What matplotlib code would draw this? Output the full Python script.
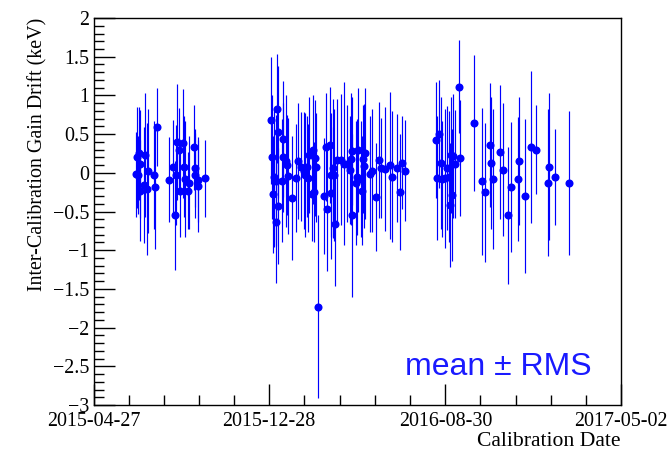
import numpy as np
import matplotlib
matplotlib.use("Agg")
import matplotlib.pyplot as plt
import matplotlib.dates as mdates
from matplotlib.ticker import MultipleLocator, FixedLocator

# ---------------- data ----------------
base_date = "2015-04-27"
# days after base_date, drift (keV), RMS (keV)
days = [59, 61, 62, 63, 64, 65, 70, 72, 75, 76, 84, 85, 89,
        105, 111, 114, 115, 117, 119, 120, 125, 126, 127, 132, 133, 140, 141, 142, 145, 146, 155,
        248, 249, 251, 252, 254, 255, 256, 257, 258, 263, 264, 265, 268, 270, 271, 277, 282, 285,
        290, 294, 295, 298, 299, 300, 305, 306, 307, 309, 310, 313, 321, 325, 326, 330, 331, 332,
        334, 335, 337, 340, 346, 349, 353, 358, 359, 360, 361, 366, 368, 369, 373, 375, 376, 378,
        379, 386, 388, 394, 399, 401, 407, 414, 417, 424, 427, 430, 434,
        478, 480, 482, 485, 487, 491, 494, 496, 497, 499, 500, 502, 504, 510, 511,
        531, 542, 546, 554, 555, 558, 567, 571, 579, 582, 593, 594, 602, 611, 617, 635, 636, 644, 664]
drift = [-0.02, 0.20, -0.03, 0.25, -0.23, 0.11, -0.16, 0.23, -0.21, 0.02, -0.03, -0.18, 0.59,
         -0.09, 0.08, -0.55, -0.03, 0.40, 0.29, -0.23, 0.38, 0.08, -0.08, -0.23, -0.13, 0.33, 0.06, -0.03, -0.17, -0.09, -0.07,
         0.68, 0.20, -0.28, -0.06, -0.10, -0.63, 0.83, 0.53, -0.43, -0.10, 0.44, 0.20, 0.15, 0.10, -0.04, -0.32, -0.07, 0.15,
         0.08, 0.03, -0.03, 0.08, -0.07, 0.23, -0.28, 0.30, -0.25, 0.19, 0.07, -1.73, -0.30, 0.33, -0.47, 0.36, -0.26, -0.03,
         0.06, -0.03, -0.66, 0.16, 0.17, 0.12, 0.12, 0.04, 0.18, -0.55, 0.28, -0.13, -0.05, 0.29, -0.08, -0.23, 0.18, 0.09,
         0.25, -0.01, 0.03, -0.31, 0.17, 0.06, 0.05, 0.10, -0.05, 0.06, -0.25, 0.13, 0.03,
         0.42, -0.07, 0.50, 0.13, -0.08, -0.07, 0.06, -0.05, -0.42, 0.23, -0.29, 0.22, 0.11, 1.11, 0.19,
         0.64, -0.11, -0.25, 0.36, 0.13, -0.08, 0.27, 0.04, -0.55, -0.18, -0.08, 0.15, -0.30, 0.33, 0.30, -0.13, 0.08, -0.06, -0.13]
rms = [0.55, 0.65, 0.50, 0.60, 0.65, 0.70, 0.75, 0.80, 0.85, 0.80, 0.70, 0.80, 0.50,
       0.55, 0.60, 0.70, 0.65, 0.75, 0.55, 0.60, 0.70, 0.65, 0.75, 0.50, 0.60, 0.55, 0.50, 0.55, 0.60, 0.55, 0.50,
       0.82, 0.80, 0.75, 0.90, 0.85, 0.80, 0.70, 0.85, 0.75, 0.80, 0.75, 0.70, 0.85, 0.65, 0.75, 0.80, 0.70, 0.75,
       0.70, 0.75, 0.80, 0.65, 0.70, 0.75, 0.60, 0.70, 0.65, 0.75, 0.70, 1.18, 0.75, 0.70, 0.80, 0.75, 0.85, 0.80,
       0.90, 0.85, 0.80, 0.80, 0.85, 1.05, 0.75, 0.70, 0.85, 1.05, 0.70, 0.80, 0.75, 0.80, 0.75, 0.70, 0.70, 0.80,
       0.85, 0.75, 0.80, 0.70, 0.75, 0.65, 0.80, 0.95, 0.85, 0.70, 0.75, 0.60, 0.65,
       0.75, 0.80, 0.70, 0.85, 0.75, 0.90, 0.80, 0.85, 0.80, 0.75, 0.85, 0.80, 0.70, 0.60, 0.75,
       0.88, 0.95, 0.90, 0.80, 0.85, 0.90, 0.87, 0.86, 0.89, 0.84, 0.80, 0.83, 1.00, 0.98, 0.57, 0.95, 0.95, 0.62, 0.93]

xtick_labels = ["2015-04-27", "2015-12-28", "2016-08-30", "2017-05-02"]
x_title = "Calibration Date"
y_title = "Inter-Calibration Gain Drift (keV)"
annotation = "mean ± RMS"

# ---------------- plot ----------------
plt.rcParams['font.family'] = ['Liberation Serif', 'DejaVu Serif']
plt.rcParams['axes.unicode_minus'] = True

fig = plt.figure(figsize=(6.69, 4.51), dpi=100)
ax = fig.add_axes([0.140, 0.102, 0.788, 0.858])

dates = np.datetime64(base_date) + np.array(days).astype('timedelta64[D]')
ax.errorbar(dates, drift, yerr=rms, fmt='o', color='#0000ff', ecolor='#0000ff',
            markersize=5.8, elinewidth=0.85, capsize=0, markeredgewidth=0)

tick_dates = [np.datetime64(d) for d in xtick_labels]
ax.set_xlim(tick_dates[0], tick_dates[-1])
ax.set_ylim(-3, 2)

ax.xaxis.set_major_locator(FixedLocator(mdates.date2num(tick_dates)))
ax.set_xticklabels(xtick_labels)
tnum = mdates.date2num(tick_dates)
minors = []
for a, b in zip(tnum[:-1], tnum[1:]):
    for k in range(1, 5):
        minors.append(a + (b - a) * k / 5)
ax.xaxis.set_minor_locator(FixedLocator(minors))

ax.yaxis.set_major_locator(MultipleLocator(0.5))
ax.yaxis.set_minor_locator(MultipleLocator(0.1))
ax.yaxis.set_major_formatter(matplotlib.ticker.FuncFormatter(
    lambda v, p: ('%g' % v).replace('-', '\u2212')))

ax.tick_params(axis='both', which='major', direction='in', length=15, width=1,
               labelsize=14.4, top=False, right=False)
ax.tick_params(axis='both', which='minor', direction='in', length=7.5, width=1,
               top=False, right=False)
ax.tick_params(axis='x', which='major', pad=5)
ax.tick_params(axis='y', which='major', pad=3)

for s in ax.spines.values():
    s.set_linewidth(1.0)
    s.set_color('black')

ax.set_xlabel(x_title, fontsize=15.6, loc='right', labelpad=1)
ax.set_ylabel(y_title, fontsize=14.4, loc='top', labelpad=4)

ax.text(0.9455, 0.098, annotation, transform=ax.transAxes, ha='right', va='center',
        fontsize=23, color='#1a1aff', family=['Liberation Sans', 'DejaVu Sans'])

fig.savefig("out.png", dpi=100)
